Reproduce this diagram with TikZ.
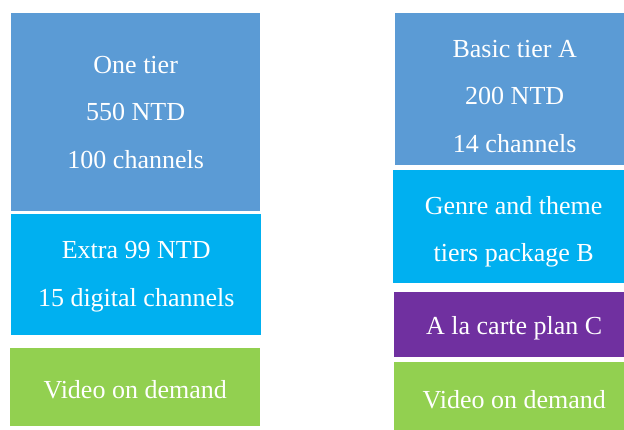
\documentclass[tikz,border=0pt]{standalone}
\usepackage{fontspec}
\setmainfont{Liberation Serif}
\definecolor{tierblue}{HTML}{5B9BD5}
\definecolor{extracyan}{HTML}{00B0F0}
\definecolor{cartepurple}{HTML}{7030A0}
\definecolor{vodgreen}{HTML}{92D050}

\begin{document}
\begin{tikzpicture}[x=1pt,y=-1pt,
  planbox/.style={anchor=north west,inner sep=0pt},
  box/.style n args={2}{planbox,minimum width=#1,minimum height=#2},
  plantext/.style={inner sep=0pt,align=center,text=white,
    font=\fontsize{26}{47.5}\selectfont}]
  \useasboundingbox (0,0) rectangle (624,430);

  % left: one tier
  \node[box={249}{198},fill=tierblue] (one) at (11,13) {};
  \node[plantext] (one-t) at (one.center) {One tier\\550 NTD\\100 channels};
  \node[box={250}{121},fill=extracyan] (extra) at (11,214) {};
  \node[plantext] (extra-t) at ([shift={(0,2)}]extra.center) {Extra 99 NTD\\15 digital channels};
  \node[box={250}{78},fill=vodgreen] (vodL) at (10,348) {};
  \node[plantext] (vodL-t) at ([shift={(0,2)}]vodL.center) {Video on demand};

  % right: tiers A, B, C
  \node[box={229}{152},fill=tierblue] (basic) at (395,13) {};
  \node[plantext] (basic-t) at ([shift={(5,7)}]basic.center) {Basic tier A\\200 NTD\\14 channels};
  \node[box={231}{113},fill=extracyan] (genre) at (393,170) {};
  \node[plantext] (genre-t) at ([shift={(5,5)}]genre.center) {Genre and theme\\tiers package B};
  \node[box={230}{65},fill=cartepurple] (carte) at (394,292) {};
  \node[plantext] (carte-t) at ([shift={(5,4)}]carte.center) {A la carte plan C};
  \node[box={230}{68},fill=vodgreen] (vodR) at (394,362) {};
  \node[plantext] (vodR-t) at ([shift={(5,3)}]vodR.center) {Video on demand};
\end{tikzpicture}
\end{document}
